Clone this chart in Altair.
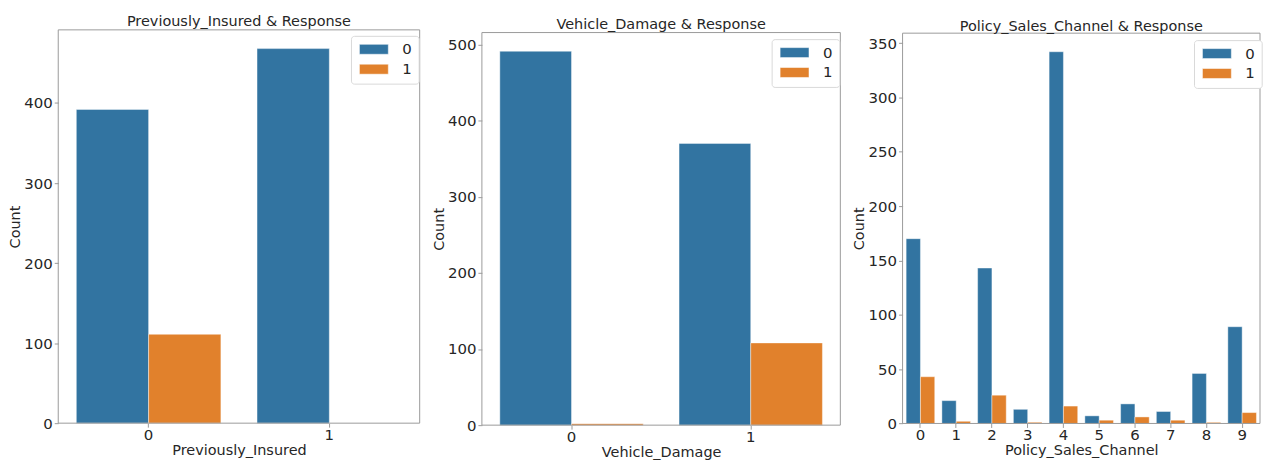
import altair as alt
import pandas as pd

BLUE = "#3274a1"
ORANGE = "#e1812c"
TEXT = "#262626"
FRAME = "#9a9a9a"

# Counts per category, split by Response (0 / 1)
insured_cats = ["0", "1"]
insured_resp0 = [392, 468]
insured_resp1 = [111, 0]

damage_cats = ["0", "1"]
damage_resp0 = [491, 370]
damage_resp1 = [2, 108]

channel_cats = ["0", "1", "2", "3", "4", "5", "6", "7", "8", "9"]
channel_resp0 = [170, 21, 143, 13, 342, 7, 18, 11, 46, 89]
channel_resp1 = [43, 2, 26, 1, 16, 3, 6, 3, 1, 10]

insured_ticks = [0, 100, 200, 300, 400]
damage_ticks = [0, 100, 200, 300, 400, 500]
channel_ticks = [0, 50, 100, 150, 200, 250, 300, 350]

response_levels = ["0", "1"]

# wide, flat legend swatch (drawn around a 10 px symbol box)
SWATCH = "M-2.9,-1H2.9V1H-2.9Z"


def panel(field, cats, r0, r1, ticks, width, height, inset, title_dy, legend_xy):
    """Grouped bar panel; `inset` pushes the framed plot area down inside its cell."""
    df = pd.DataFrame({
        field: cats + cats,
        "Response": ["0"] * len(cats) + ["1"] * len(cats),
        "Count": r0 + r1,
    })
    top = max(r0 + r1) * 1.05
    cell_h = height + inset
    bars = (
        alt.Chart(df)
        .mark_bar(stroke="white", strokeWidth=0.6, strokeOpacity=0.7)
        .encode(
            x=alt.X(
                f"{field}:N",
                sort=cats,
                scale=alt.Scale(paddingInner=0.2, paddingOuter=0.1),
                axis=alt.Axis(title=field, labelAngle=0),
            ),
            xOffset=alt.XOffset(
                "Response:N",
                sort=response_levels,
                scale=alt.Scale(paddingInner=0, paddingOuter=0),
            ),
            y=alt.Y(
                "Count:Q",
                scale=alt.Scale(domain=[0, top], nice=False, zero=True,
                                range=[cell_h, inset]),
                axis=alt.Axis(values=ticks, title="Count"),
            ),
            color=alt.Color(
                "Response:N",
                scale=alt.Scale(domain=response_levels, range=[BLUE, ORANGE]),
                legend=alt.Legend(
                    title=None,
                    orient="none",
                    legendX=legend_xy[0],
                    legendY=legend_xy[1],
                    padding=6,
                    fillColor="white",
                    strokeColor="#d9d9d9",
                    cornerRadius=3,
                    symbolType=SWATCH,
                    symbolSize=100,
                    symbolOffset=9.5,
                    symbolStrokeColor="white",
                    symbolStrokeWidth=0.5,
                    labelOffset=21,
                    rowPadding=4,
                    labelFontSize=15,
                    labelColor=TEXT,
                ),
            ),
        )
    )
    frame = (
        alt.Chart(pd.DataFrame({"edge": [0]}))
        .mark_rect(fillOpacity=0, stroke=FRAME, strokeWidth=1)
        .encode(x=alt.value(0), x2=alt.value(width),
                y=alt.value(inset), y2=alt.value(cell_h))
    )
    return alt.layer(bars, frame).properties(
        width=width,
        height=cell_h,
        title=alt.Title(f"{field} & Response", offset=0, dy=title_dy),
    )


p1 = panel("Previously_Insured", insured_cats, insured_resp0, insured_resp1,
           insured_ticks, 363, 395, 0, 0, (294, 6))
p2 = panel("Vehicle_Damage", damage_cats, damage_resp0, damage_resp1,
           damage_ticks, 360, 394.3, 2.7, 2.7, (291, 9.3))
p3 = panel("Policy_Sales_Channel", channel_cats, channel_resp0, channel_resp1,
           channel_ticks, 359, 392, 3.3, 4.3, (292.7, 10.3))

chart = (
    alt.hconcat(p1, p2, p3, spacing=10.5)
    .resolve_scale(x="independent", xOffset="independent", y="independent",
                   color="independent")
    .resolve_legend(color="independent")
    .properties(padding={"left": 7.5, "top": 13, "right": 0, "bottom": 0})
    .configure(font="DejaVu Sans")
    .configure_view(stroke=None)
    .configure_axis(
        grid=False,
        domain=False,
        ticks=True,
        tickSize=4,
        tickColor=FRAME,
        labelFontSize=15,
        labelColor=TEXT,
        titleFontSize=14.5,
        titleFontWeight="normal",
        titleColor=TEXT,
    )
    .configure_axisY(labelPadding=2, titlePadding=2, minExtent=34, maxExtent=34)
    .configure_axisX(labelPadding=0, titlePadding=1)
    .configure_title(fontSize=14.5, fontWeight="normal", color=TEXT, anchor="middle")
)

chart.save("out.html", embed_options={"renderer": "svg", "actions": False})
